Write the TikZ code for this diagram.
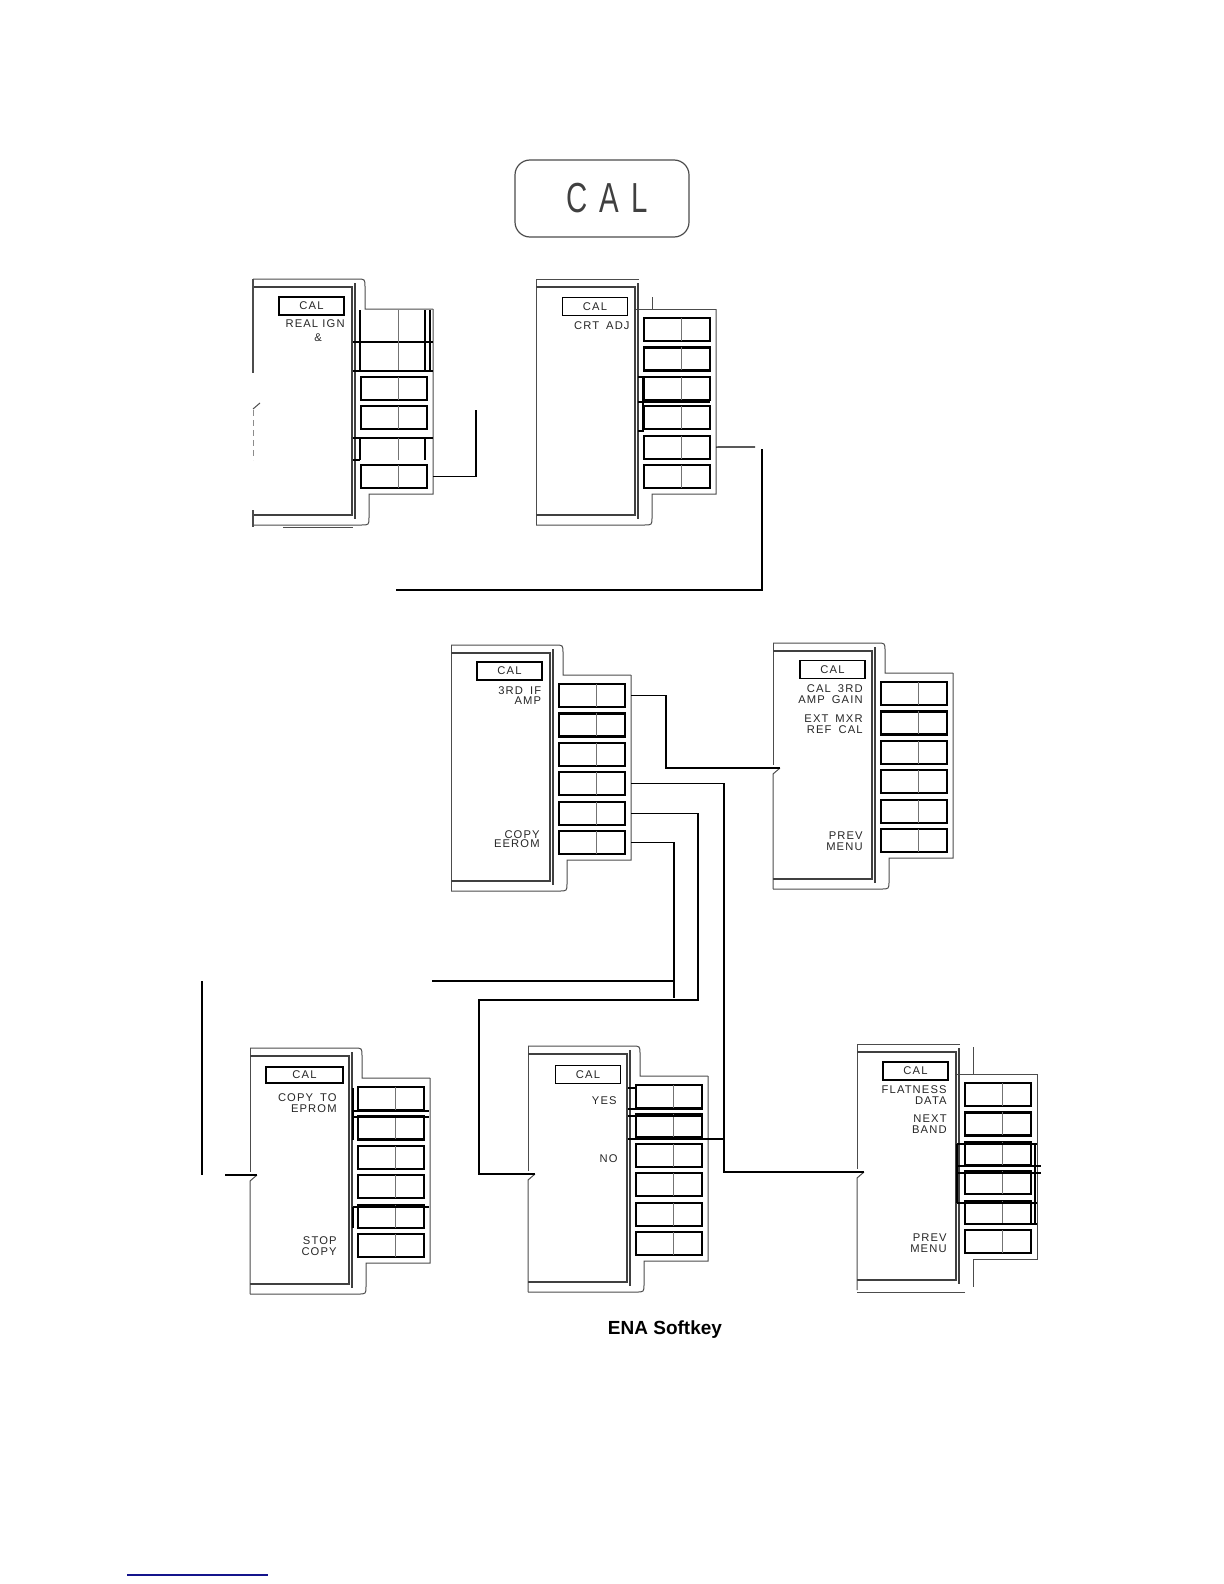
\documentclass[tikz,border=0pt]{standalone}
\usepackage{fontspec}
\setmainfont{Liberation Sans}
\newfontfamily\lblfont[LetterSpace=10]{Liberation Sans}
\newfontfamily\bigfont{Liberation Sans}
\newcommand\wsp{\hspace{3.5pt}}
\definecolor{linkblue}{RGB}{20,20,140}
\tikzset{
 outl/.style={draw=black!70, line width=0.5pt},
 scr/.style={draw=black!75, line width=0.6pt},
 btnbox/.style={draw=black, line width=1.1pt},
 divl/.style={draw=black!55, line width=0.5pt},
 conn/.style={draw=black, line width=0.6pt},
 xtra/.style={draw=black, line width=0.6pt},
 xthick/.style={draw=black, line width=1.1pt},
 calbx/.style={draw=black, line width=0.9pt, minimum width=32.5pt, minimum height=9pt, inner sep=0pt,
   font=\lblfont\fontsize{5.6}{5.5}\selectfont, text=black!85},
 lbl/.style={inner sep=0pt, anchor=east, align=right,
   font=\lblfont\fontsize{5.6}{5.5}\selectfont, text=black!85},
}
% #1 name, #2 x0, #3 y0, #4 notch y (0 none, -1 no left edge), #5 top style, #6 buttons, #7 extra code
\newcommand\softpanel[7]{%
\begin{scope}[shift={(#2,#3)}]
 \ifnum#5=1
  \draw[outl] (0,0) -- (104,0) .. controls (112,0) .. (112,8) -- (112,30) -- (180,30);
 \else
  \draw[outl] (0,0) -- (103,0);
  \ifnum#5=2 \draw[outl] (116,3) -- (116,30); \else \draw[outl] (116,18) -- (116,30); \fi
  \draw[outl] (100,30) -- (180,30);
 \fi
 \ifnum#5=2
  \draw[outl] (180,30) -- (180,215) -- (116,215) -- (116,243);
  \draw[outl] (108,248) -- (0,248);
 \else
  \draw[outl] (180,30) -- (180,215) -- (116,215) -- (116,238) .. controls (116,246) .. (108,246) -- (0,246);
 \fi
 \ifnum#4>0
  \draw[outl] (0,0) -- (0,#4-3);
  \draw[outl] (7,#4) -- (0,#4+6) -- (0,246);
  \coordinate (#1-n) at (7,#4);
 \else\ifnum#4=0
  \draw[outl] (0,0) -- (0,246);
 \fi\fi
 \draw[scr] (0,8) -- (99,8) -- (99,236) -- (0,236);
 \draw[scr] (102,4) -- (102,240);
 \foreach \k in {1,...,6} {\coordinate (#1-r\k) at (180,{50.5+29.4*(\k-1)});}
 \foreach \k in {#6} {\draw[btnbox] (108,{39+29.4*(\k-1)}) rectangle ++(66,23);
   \draw[divl] (145,{39+29.4*(\k-1)}) -- ++(0,23);}
 #7
\end{scope}}

\begin{document}
\begin{tikzpicture}[x=0.5pt,y=-0.5pt]
\useasboundingbox (0,0) rectangle (1224,1584);

% top hard key
\node[draw=black!70, line width=0.6pt, rounded corners=7.5pt, minimum width=87pt, minimum height=38.5pt, inner sep=0pt]
  (calkey) at (602,198.5) {};
\node[inner sep=0pt, text=black!75] (calkeytxt) at (607,198)
  {\scalebox{0.7}[1]{\bigfont\fontsize{21}{21}\selectfont C\hspace{8.5pt}A\hspace{8.5pt}L}};

% ---------- A1 ----------
\softpanel{A1}{253}{279}{-1}{1}{3,4,6}{
  \node[calbx] (A1-cal) at (58.5,27) {CAL};
  \node[lbl] (A1-l1) at (92,45) {REAL IGN};
  \node[lbl,anchor=center] (A1-l2) at (65,59) {\&};
  \draw[outl, line width=0.8pt] (0,0) -- (0,94);
  \draw[outl] (7,124) -- (0,130);
  \draw[outl, densely dashed, draw=black!45] (0,131) -- (0,181);
  \draw[outl, line width=0.8pt] (0,231) -- (0,248);
  \draw[outl] (30,248) -- (100,248);
  \coordinate (A1-n) at (7,124);
  \draw[xthick] (100,63) -- (180,63);
  \draw[xthick] (107,31) -- (107,92);
  \draw[xthick] (172,31) -- (172,92);
  \draw[xtra] (177,31) -- (177,92);
  \draw[divl] (145,31) -- (145,92);
  \draw[xtra] (100,92) -- (180,92);
  \draw[xthick] (100,159) -- (180,159);
  \draw[xthick] (107,159) -- (107,181);
  \draw[xthick] (172,159) -- (172,181);
  \draw[divl] (145,159) -- (145,181);
  \draw[xtra] (100,181) -- (107,181);
}

% ---------- A2 ----------
\softpanel{A2}{536}{279}{0}{0}{1,2,3,4,5,6}{
  \node[calbx] (A2-cal) at (59,27.5) {CAL};
  \node[lbl] (A2-l1) at (94,46.5) {CRT\wsp ADJ};
  \draw[xthick] (102,123) -- (174,123);
  \draw[xthick] (107,98) -- (107,152);
  \draw[xtra] (102,98) -- (108,98);
  \draw[xtra] (102,152) -- (108,152);
}

% ---------- B2 ----------
\softpanel{B2}{451}{645}{0}{1}{1,2,3,4,5,6}{
  \node[calbx] (B2-cal) at (58.5,26) {CAL};
  \node[lbl] (B2-l1) at (90.5,50.5) {3RD\wsp IF\\[-0.8pt]AMP};
  \node[lbl] (B2-l2) at (89,194) {COPY\\[-0.8pt]EEROM};
}

% ---------- B3 ----------
\softpanel{B3}{773}{643}{125}{1}{1,2,3,4,5,6}{
  \node[calbx] (B3-cal) at (59.5,26.5) {CAL};
  \node[lbl] (B3-l1) at (90,51.5) {CAL\wsp 3RD\\AMP\wsp GAIN};
  \node[lbl] (B3-l2) at (90,81) {EXT\wsp MXR\\REF\wsp CAL};
  \node[lbl] (B3-l3) at (90,198) {PREV\\MENU};
}

% ---------- C1 ----------
\softpanel{C1}{250}{1048}{127}{1}{1,2,3,4,5,6}{
  \node[calbx, minimum width=38.5pt, minimum height=8pt] (C1-cal) at (54.5,27) {CAL};
  \node[lbl] (C1-l1) at (87,55) {COPY\wsp TO\\EPROM};
  \node[lbl] (C1-l2) at (87,198) {STOP\\COPY};
  \draw[xthick] (103,63) -- (179,63);
  \draw[xtra] (103,69) -- (179,69);
  \draw[xtra] (103,40) -- (103,92);
  \draw[xthick] (103,159) -- (179,159);
  \draw[xtra] (103,159) -- (103,180);
}

% ---------- C2 ----------
\softpanel{C2}{528}{1046}{128}{1}{1,2,3,4,5,6}{
  \node[calbx] (C2-cal) at (60,28.5) {CAL};
  \node[lbl] (C2-l1) at (89,55) {YES};
  \node[lbl] (C2-l2) at (90,112.5) {NO};
  \draw[xtra] (100,42) -- (109,42);
  \draw[xthick] (100,63) -- (175,63);
  \draw[xtra] (100,70) -- (175,70);
  \coordinate (C2-k) at (100,93);
}

% ---------- C3 ----------
\softpanel{C3}{857}{1044}{128}{2}{1,2,3,4,5,6}{
  \node[calbx] (C3-cal) at (58.5,27) {CAL};
  \node[lbl] (C3-l1) at (90,51.5) {FLATNESS\\DATA};
  \node[lbl] (C3-l2) at (90,80.5) {NEXT\\BAND};
  \node[lbl] (C3-l3) at (90,199) {PREV\\MENU};
  \draw[xthick] (100,100) -- (180,100);
  \draw[xthick] (100,122) -- (184,122);
  \draw[xtra] (100,129) -- (184,129);
  \draw[xtra] (100,159) -- (180,159);
  \draw[xtra] (108,180) -- (180,180);
  \draw[xtra] (100,100) -- (100,159);
  \draw[xtra] (178,100) -- (178,180);
}

% ---------- connectors ----------
\coordinate (c1e) at (476,410);
\draw[conn] (A1-r6) -| (c1e);

\coordinate (c2a) at (755,447);
\draw[conn] (A2-r5) -- (c2a);
\coordinate (c2b) at (762,449);
\coordinate (c2c) at (396,590);
\draw[conn] (c2b) |- (c2c);

\draw[conn] (B2-r1) -- ++(35,0) |- (B3-n);

\draw[conn] (B2-r4) -- ++(93,0) |- (C3-n);
\coordinate (c4m) at (724,1139);
\draw[conn] (C2-k) -- (c4m);

\coordinate (c5a) at (479,1000);
\draw[conn] (B2-r5) -- ++(67,0) |- (c5a) |- (C2-n);

\coordinate (c6a) at (674,998);
\draw[conn] (B2-r6) -| (c6a);
\coordinate (c6b) at (674,981);
\coordinate (c6c) at (432,981);
\draw[conn] (c6b) -- (c6c);
\coordinate (c6d) at (202,981);
\coordinate (c6e) at (202,1175);
\draw[conn] (c6d) -- (c6e);
\coordinate (c6f) at (225,1175);
\draw[conn] (c6f) -- (C1-n);

% caption
\node[font=\bfseries\fontsize{9.5}{10}\selectfont, inner sep=0pt] (cap) at (665,1330) {ENA Softkey};

% blue link underline
\coordinate (bl1) at (127,1575);
\coordinate (bl2) at (268,1575);
\draw[draw=linkblue, line width=0.7pt] (bl1) -- (bl2);
\end{tikzpicture}
\end{document}
